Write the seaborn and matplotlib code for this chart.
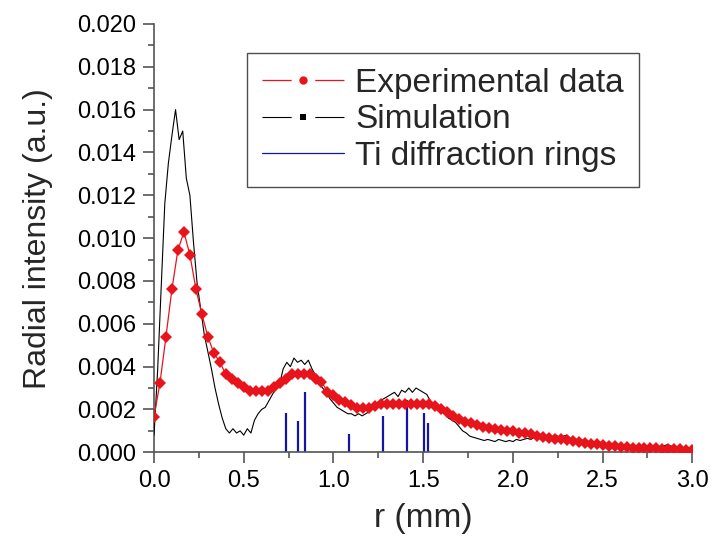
import numpy as np
import pandas as pd
import matplotlib
matplotlib.use("Agg")
import matplotlib.pyplot as plt
import seaborn as sns
from matplotlib.ticker import MultipleLocator, FormatStrFormatter
from matplotlib.lines import Line2D

# ---------------- data ----------------
# Experimental data: r = i/30 mm, intensity in units of 1e-3
exp_r = [i / 30 for i in range(91)]
exp_val = [1.66, 3.25, 5.40, 7.63, 9.45, 10.28, 9.22, 7.63, 6.45, 5.40,
           4.63, 4.22, 3.64, 3.41, 3.25, 3.07, 2.86, 2.86, 2.86, 2.86,
           3.07, 3.25, 3.42, 3.64, 3.64, 3.64, 3.64, 3.41, 3.30, 2.83,
           2.68, 2.44, 2.35, 2.20, 2.06, 2.06, 2.06, 2.16, 2.24, 2.24,
           2.24, 2.24, 2.24, 2.24, 2.24, 2.24, 2.24, 2.15, 2.00, 1.88,
           1.68, 1.55, 1.43, 1.35, 1.28, 1.18, 1.13, 1.10, 1.05, 1.01,
           0.98, 0.92, 0.89, 0.85, 0.78, 0.73, 0.68, 0.64, 0.60, 0.55,
           0.52, 0.48, 0.43, 0.40, 0.37, 0.33, 0.30, 0.27, 0.25, 0.23,
           0.22, 0.21, 0.20, 0.19, 0.18, 0.17, 0.17, 0.15, 0.14, 0.12,
           0.10]

# Simulation: r = 0.00 ... 3.00 step 0.02 mm, intensity in units of 1e-3
sim_r = [i * 0.02 for i in range(151)]
sim_val = [0.8, 3.8, 7.7, 11.6, 13.5, 14.8, 16.0, 14.6, 15.0, 12.8,
           12.0, 9.8, 7.9, 6.7, 5.5, 4.7, 3.9, 3.0, 2.25, 1.6,
           1.1, 0.9, 1.1, 0.9, 1.0, 0.8, 1.1, 0.9, 1.5, 1.8,
           2.0, 2.1, 2.4, 2.7, 3.0, 3.2, 3.9, 4.2, 4.0, 4.4,
           4.2, 4.3, 4.1, 4.3, 3.9, 3.6, 3.2, 3.0, 2.8, 2.5,
           2.3, 2.1, 2.0, 1.9, 1.8, 1.8, 1.7, 1.8, 1.7, 1.8,
           1.9, 2.1, 2.3, 2.4, 2.5, 2.6, 2.7, 2.8, 2.6, 2.9,
           2.8, 3.0, 2.8, 3.0, 2.9, 2.8, 2.7, 2.4, 2.2, 2.0,
           1.9, 1.85, 1.6, 1.5, 1.4, 1.2, 1.0, 0.9, 0.75, 0.7,
           0.65, 0.6, 0.55, 0.6, 0.55, 0.5, 0.6, 0.55, 0.5, 0.55,
           0.5, 0.6, 0.55, 0.6, 0.65, 0.6, 0.7, 0.75, 0.7, 0.8,
           0.75, 0.7, 0.8, 0.7, 0.75, 0.8, 0.65, 0.6, 0.55, 0.6,
           0.5, 0.45, 0.5, 0.4, 0.4, 0.35, 0.35, 0.3, 0.3, 0.25,
           0.3, 0.25, 0.2, 0.25, 0.2, 0.2, 0.15, 0.2, 0.15, 0.2,
           0.15, 0.2, 0.3, 0.35, 0.3, 0.2, 0.15, 0.15, 0.1, 0.1,
           0.05]

# Ti diffraction rings: positions (mm) and heights (1e-3)
ring_r = [0.736, 0.804, 0.842, 1.089, 1.275, 1.412, 1.505, 1.529]
ring_h = [1.82, 1.46, 2.83, 0.84, 1.70, 2.44, 1.82, 1.36]

labels = ["Experimental data", "Simulation", "Ti diffraction rings"]
x_label = "r (mm)"
y_label = "Radial intensity (a.u.)"

# ---------------- plotting ----------------
sns.set_theme(style="ticks")
plt.rcParams["font.family"] = ["Liberation Sans", "DejaVu Sans"]
plt.rcParams["lines.scale_dashes"] = False

exp_df = pd.DataFrame({"r": exp_r, "I": np.array(exp_val) * 1e-3})
sim_df = pd.DataFrame({"r": sim_r, "I": np.array(sim_val) * 1e-3})

fig = plt.figure(figsize=(7.15, 5.39), dpi=100)
ax = fig.add_axes([0.2154, 0.1609, 0.9683 - 0.2154, 0.9555 - 0.1609])

red = "#e8141b"
navy = "#1414a8"

ax.vlines(ring_r, 0, np.array(ring_h) * 1e-3, color=navy, lw=1.6, zorder=2)
ax.axhline(0, color=navy, lw=0.8, zorder=2)
sns.lineplot(data=sim_df, x="r", y="I", ax=ax, color="black", lw=0.8, zorder=3)
sns.lineplot(data=exp_df, x="r", y="I", ax=ax, color=red, lw=0.9,
             marker="D", markersize=6, markeredgewidth=0, zorder=4)

ax.set_xlim(0, 3.0)
ax.set_ylim(0, 0.020)
ax.xaxis.set_major_locator(MultipleLocator(0.5))
ax.xaxis.set_minor_locator(MultipleLocator(0.25))
ax.yaxis.set_major_locator(MultipleLocator(0.002))
ax.yaxis.set_minor_locator(MultipleLocator(0.001))
ax.xaxis.set_major_formatter(FormatStrFormatter("%.1f"))
ax.yaxis.set_major_formatter(FormatStrFormatter("%.3f"))

spine_col = "#555555"
for s in ["top", "right"]:
    ax.spines[s].set_visible(False)
for s in ["left", "bottom"]:
    ax.spines[s].set_color(spine_col)
    ax.spines[s].set_linewidth(1.2)
ax.tick_params(which="major", direction="out", length=8, width=1.2,
               color=spine_col, labelsize=17, pad=5, labelcolor="black")
ax.tick_params(which="minor", direction="out", length=4, width=1.2,
               color=spine_col)

ax.set_xlabel(x_label, fontsize=24, labelpad=8)
ax.set_ylabel(y_label, fontsize=23, labelpad=17)

# legend handle: line segment, gap, marker, gap, line segment (Origin style)
seg_dash = (0, (21, 17, 21, 100))
handles = [
    Line2D([], [], color=red, lw=0.9, ls=seg_dash, marker="o", markersize=6,
           markeredgewidth=0),
    Line2D([], [], color="black", lw=0.8, ls=seg_dash, marker="s",
           markersize=4, markeredgewidth=0),
    Line2D([], [], color=navy, lw=0.9),
]
leg = ax.legend(handles, labels, loc="upper left",
                bbox_to_anchor=(0.173, 0.932), borderaxespad=0,
                fontsize=24, frameon=True, fancybox=False, shadow=False,
                handlelength=2.45, handletextpad=0.35, labelspacing=0.16,
                borderpad=0.45, numpoints=1)
leg.get_frame().set_edgecolor("#222222")
leg.get_frame().set_linewidth(1.0)

fig.savefig("out.png", dpi=100)
